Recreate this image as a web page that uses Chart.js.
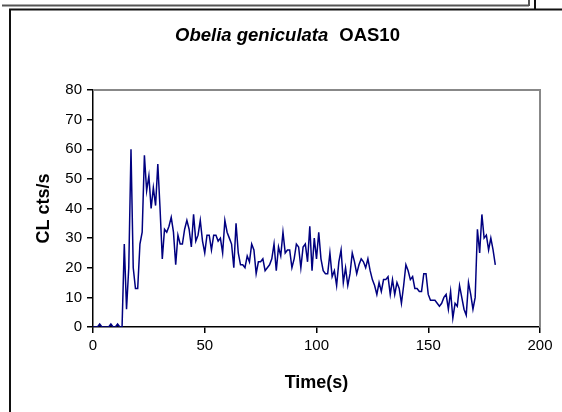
<!DOCTYPE html>
<html>
<head>
<meta charset="utf-8">
<title>Obelia geniculata OAS10</title>
<script src="https://cdn.jsdelivr.net/npm/chart.js"></script>
<style>
  body{margin:0;background:#fff}
  #chart{display:block}
</style>
</head>
<body>

<canvas id="chart" width="562" height="412"></canvas>

<script>
// time in seconds, one reading per second
const times = [
  0,1,2,3,4,5,6,7,8,9,10,11,12,13,14,15,16,17,18,19,
  20,21,22,23,24,25,26,27,28,29,30,31,32,33,34,35,36,37,38,39,
  40,41,42,43,44,45,46,47,48,49,50,51,52,53,54,55,56,57,58,59,
  60,61,62,63,64,65,66,67,68,69,70,71,72,73,74,75,76,77,78,79,
  80,81,82,83,84,85,86,87,88,89,90,91,92,93,94,95,96,97,98,99,
  100,101,102,103,104,105,106,107,108,109,110,111,112,113,114,115,116,117,118,119,
  120,121,122,123,124,125,126,127,128,129,130,131,132,133,134,135,136,137,138,139,
  140,141,142,143,144,145,146,147,148,149,150,151,152,153,154,155,156,157,158,159,
  160,161,162,163,164,165,166,167,168,169,170,171,172,173,174,175,176,177,178,179,
  180
];

// CL counts per second
const cl = [
  0,0,0,1,0,0,0,0,1,0,0,1,0,0,
  28,6,20,60,20,13,13,
  28,32,58,46,51,40,47,41,55,40,
  23,33,32,34,37,32,21,31,28,28,
  33,36,33,27,38,29,31,36,29,25,
  31,31,26,31,31,29,30,25,36,32,
  30,28,20,35,25,21,21,20,24,22,
  28,26,18,22,22,23,19,20,21,23,
  28,19,27,24,32,25,26,26,20,23,
  28,27,20,27,28,22,34,19,30,23,
  32,23,19,18,18,25,17,19,14,22,
  26,15,20,14,18,25,22,18,21,23,
  22,20,23,19,16,14,11,15,12,
  16,16,17,11,16,11,15,13,8,14,
  21,19,16,17,13,13,12,12,18,18,
  11,9,9,9,8,7,8,10,11,6,
  12,3,8,7,14,10,6,4,15,11,
  6,10,33,25,38,30,31,26,30,26,
  21
];

const xTicks = [0,50,100,150,200];
const yTicks = [0,10,20,30,40,50,60,70,80];

const FONT = "'Liberation Sans', Arial, sans-serif";

// page frame, plot border and the mixed-style title
const decor = {
  id:'decor',
  beforeDraw(chart){
    const c = chart.ctx;
    c.save();
    c.fillStyle = '#fff';
    c.fillRect(0,0,chart.width,chart.height);
    c.lineWidth = 2;
    c.strokeStyle = '#555';
    c.beginPath();
    c.moveTo(2,5.5); c.lineTo(529,5.5);
    c.moveTo(529,0); c.lineTo(529,6);
    c.stroke();
    c.strokeStyle = '#111';
    c.beginPath();
    c.moveTo(9,9.5); c.lineTo(562,9.5);
    c.moveTo(10,9); c.lineTo(10,412);
    c.moveTo(535,0); c.lineTo(535,9);
    c.stroke();
    c.restore();
  },
  afterDraw(chart){
    const c = chart.ctx, a = chart.chartArea;
    c.save();
    c.strokeStyle = '#888';
    c.lineWidth = 2;
    c.beginPath();
    c.moveTo(a.left,a.top); c.lineTo(a.right,a.top); c.lineTo(a.right,a.bottom);
    c.stroke();

    const t1 = 'Obelia geniculata', t2 = 'OAS10', gap = 11;
    const f1 = 'italic bold 18.5px ' + FONT, f2 = 'bold 18.5px ' + FONT;
    c.font = f1; const w1 = c.measureText(t1).width;
    c.font = f2; const w2 = c.measureText(t2).width;
    let x = 287.5 - (w1 + gap + w2) / 2;
    c.fillStyle = '#000';
    c.textBaseline = 'middle';
    c.textAlign = 'left';
    c.font = f1; c.fillText(t1, x, 36);
    c.font = f2; c.fillText(t2, x + w1 + gap, 36);
    c.restore();
  }
};

new Chart(document.getElementById('chart'),{
  type:'line',
  data:{
    datasets:[{
      label:'CL cts/s',
      data: times.map((t,i) => ({x:t, y:cl[i]})),
      borderColor:'#000080',
      borderWidth:1.5,
      pointRadius:0,
      tension:0,
      fill:false
    }]
  },
  options:{
    responsive:false,
    animation:false,
    devicePixelRatio:1,
    layout:{ padding:{ left:25, top:90, right:22, bottom:10 } },
    plugins:{
      legend:{ display:false },
      title:{ display:false },
      tooltip:{ enabled:false }
    },
    scales:{
      x:{
        type:'linear',
        min:0, max:200,
        afterBuildTicks(s){ s.ticks = xTicks.map(v => ({value:v})); },
        afterFit(s){ s.height = 75; },
        ticks:{ color:'#000', font:{ family:FONT, size:15 }, padding:4 },
        grid:{ drawOnChartArea:false, drawTicks:true, tickLength:6, color:'#000', lineWidth:1.5 },
        border:{ color:'#000', width:1.5 },
        title:{ display:true, text:'Time(s)', color:'#000',
                font:{ family:FONT, size:18, weight:'bold' }, padding:{ top:0, bottom:8 } }
      },
      y:{
        min:0, max:80,
        afterBuildTicks(s){ s.ticks = yTicks.map(v => ({value:v})); },
        afterFit(s){ s.width = 68; },
        ticks:{ color:'#000', font:{ family:FONT, size:15 }, padding:5 },
        grid:{ drawOnChartArea:false, drawTicks:true, tickLength:6, color:'#000', lineWidth:1.5 },
        border:{ color:'#000', width:1.5 },
        title:{ display:true, text:'CL cts/s', color:'#000',
                font:{ family:FONT, size:18, weight:'bold' }, padding:{ top:8, bottom:0 } }
      }
    }
  },
  plugins:[decor]
});
</script>

</body>
</html>
